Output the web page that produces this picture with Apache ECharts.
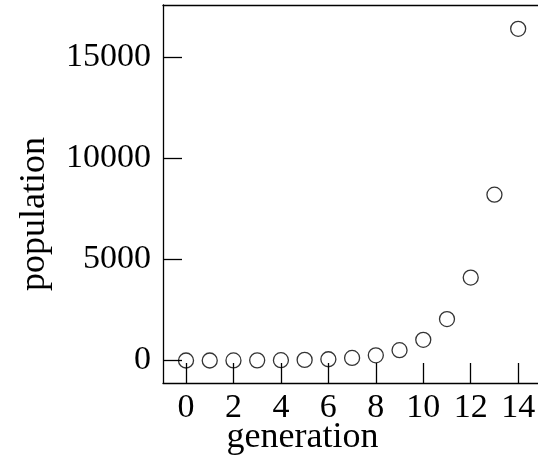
<!DOCTYPE html>
<html>
<head>
<meta charset="utf-8">
<script src="https://cdn.jsdelivr.net/npm/echarts@6/dist/echarts.min.js"></script>
<style>
html,body{margin:0;padding:0;background:#fff;}
#chart{width:538px;height:458px;}
</style>
</head>
<body>
<div id="chart"></div>
<script>
const generations = [0,1,2,3,4,5,6,7,8,9,10,11,12,13,14];
const population = [1,2,4,8,16,32,64,128,256,512,1024,2048,4096,8192,16384];
const xTicks = [0,2,4,6,8,10,12,14];
const yTicks = [0,5000,10000,15000];

const FONT = '"Liberation Serif", "DejaVu Serif", serif';
const chart = echarts.init(document.getElementById('chart'));
chart.setOption({
  animation: false,
  backgroundColor: '#fff',
  grid: {left: 163, top: 5, right: -2, bottom: 75, containLabel: false, outerBoundsMode: 'none'},
  xAxis: [{
    type: 'value', position: 'bottom',
    min: -0.97, max: 14.92,
    name: 'generation', nameLocation: 'middle', nameGap: 37, nameMoveOverlap: false,
    nameTextStyle: {fontFamily: FONT, fontSize: 36, color: '#000', padding: [0, 98, 0, 0]},
    axisLine: {show: true, onZero: false, lineStyle: {color: '#000', width: 1.3}},
    axisTick: {show: true, inside: true, length: 20, customValues: xTicks, lineStyle: {color: '#000', width: 1.3}},
    axisLabel: {customValues: xTicks, formatter: v => String(v), fontFamily: FONT, fontSize: 34, color: '#000', margin: 8},
    splitLine: {show: false}
  }, {
    type: 'value', position: 'top',
    min: -0.97, max: 14.92,
    axisLine: {show: true, onZero: false, lineStyle: {color: '#000', width: 1.3}},
    axisTick: {show: false}, axisLabel: {show: false}, splitLine: {show: false}
  }],
  yAxis: {
    type: 'value',
    min: -1110, max: 17560,
    name: 'population', nameLocation: 'middle', nameGap: 110, nameRotate: 90, nameMoveOverlap: false,
    nameTextStyle: {fontFamily: FONT, fontSize: 36, color: '#000', padding: [0, 40, 0, 0]},
    axisLine: {show: true, onZero: false, lineStyle: {color: '#000', width: 1.3}},
    axisTick: {show: true, inside: true, length: 19, customValues: yTicks, lineStyle: {color: '#000', width: 1.3}},
    axisLabel: {customValues: yTicks, formatter: v => String(v), fontFamily: FONT, fontSize: 34, color: '#000', margin: 12},
    splitLine: {show: false}
  },
  series: [{
    type: 'scatter',
    data: generations.map((g, i) => [g, population[i]]),
    symbol: 'circle', symbolSize: 15,
    itemStyle: {color: 'rgba(255,255,255,0)', borderColor: '#000', borderWidth: 1.3},
    z: 3
  }]
});
</script>
</body>
</html>
